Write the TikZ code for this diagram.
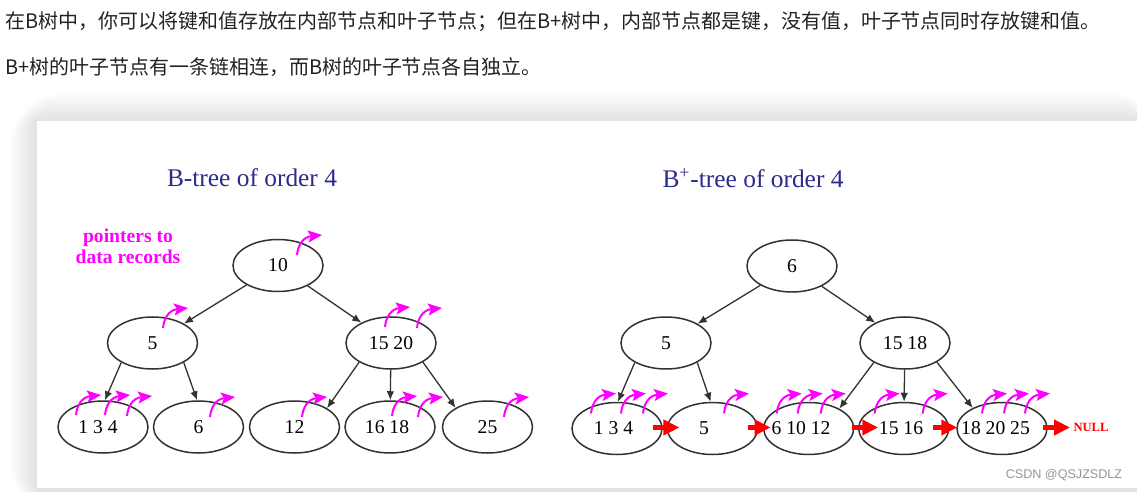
\documentclass[tikz,border=0pt]{standalone}
\usepackage{fontspec}
\setmainfont{Liberation Serif}
\newfontfamily\cjk{Noto Sans CJK SC}
\newfontfamily\wmfont{Liberation Sans}
\usetikzlibrary{arrows.meta,shapes.geometric}
\definecolor{titleblue}{RGB}{43,43,140}
\definecolor{ptrpink}{RGB}{255,0,255}
\definecolor{linkred}{RGB}{255,0,0}
\definecolor{edgegray}{RGB}{50,50,50}
\definecolor{cntextgray}{RGB}{34,34,34}
\definecolor{wmgray}{RGB}{150,150,150}
% curved pointer to a data record: node, dx, dy of its foot
\newcommand{\dataptr}[3]{%
  \begin{scope}[shift={([shift={(#2,#3)}]#1.center)}]
    \draw[recptr] (0,0) .. controls (1,-10) and (6,-18) .. (25,-20);
  \end{scope}}

\begin{document}
\begin{tikzpicture}[
    x=0.5pt, y=-0.5pt,
    key/.style={ellipse, draw=edgegray, line width=0.75pt, fill=white,
                minimum width=45pt, minimum height=26pt,
                inner xsep=-8pt, inner ysep=0pt,
                text=black, font=\fontsize{9.8}{11}\selectfont},
    branch/.style={edgegray, line width=0.65pt, -{Latex[length=4.5pt,width=3.8pt]}},
    leaflink/.style={linkred, line width=2.3pt, -{Triangle[length=8pt,width=7.5pt]}},
    recptr/.style={ptrpink, line width=1pt,
                   -{Stealth[length=7pt,width=6pt,inset=1.5pt]}},
    ttl/.style={titleblue, font=\fontsize{12.7}{15}\selectfont},
    note/.style={ptrpink, align=center, font=\fontsize{9.8}{10.5}\selectfont\bfseries},
    cntext/.style={anchor=west, inner sep=0pt, text=cntextgray,
                   font=\cjk\fontsize{9.98}{12}\selectfont}
]
\useasboundingbox (0,0) rectangle (1137,492);

% =========================================================
% TEXT ABOVE AND PANEL WITH ITS SHADOW
% =========================================================
\node[cntext] (line1) at (5,22)
  {在B树中，你可以将键和值存放在内部节点和叶子节点；但在B+树中，内部节点都是键，没有值，叶子节点同时存放键和值。};
\node[cntext] (line2) at (5,67)
  {B+树的叶子节点有一条链相连，而B树的叶子节点各自独立。};

\foreach \k in {2,4,...,28}
  \fill[black, opacity=0.007, rounded corners=\k] (37-\k,121-\k) rectangle (1137+\k,488+\k);
\fill[white] (37,121) rectangle (1137,488);

% =========================================================
% LEFT: B-tree
% =========================================================
\node[ttl] (btitle) at (252,178) {B-tree of order 4};
\node[note] (ptrnote) at (128,246) {pointers to\\data records};

\node[key] (root) at (278,265.5) {10};
\node[key] (a1) at (152.5,343) {5};
\node[key] (a2) at (391,343) {15 20};

\node[key] (l1) at (103,427) {\kern-5pt 1 3 4};
\node[key] (l2) at (198.5,427) {6};
\node[key] (l3) at (294.5,427) {12};
\node[key] (l4) at (390,427) {\kern-3pt 16 18};
\node[key] (l5) at (487.5,427) {25};

\draw[branch] (root) -- (a1);
\draw[branch] (root) -- (a2);
\draw[branch] (a1.212) -- (l1.86);
\draw[branch] (a1.328) -- (l2.93);
\draw[branch] (a2.211) -- (l3.30);
\draw[branch] (a2) -- (l4);
\draw[branch] (a2.329) -- (l5.149);

% pointers to the records
\dataptr{root}{19}{-10.5}
\dataptr{a1}{10.5}{-15}
\dataptr{a2}{-6}{-16}
\dataptr{a2}{26}{-15}
\dataptr{l1}{-27}{-12}
\dataptr{l1}{2}{-12}
\dataptr{l1}{24}{-11}
\dataptr{l2}{11.5}{-10}
\dataptr{l3}{7.5}{-10}
\dataptr{l4}{2}{-11}
\dataptr{l4}{28}{-10}
\dataptr{l5}{16.5}{-10}

% =========================================================
% RIGHT: B+-tree
% =========================================================
\node[ttl] (bptitle) at (753,178) {B\textsuperscript{+}-tree of order 4};

\node[key] (p6) at (792,266) {6};
\node[key] (b1) at (666,343) {5};
\node[key] (b2) at (905,343) {15 18};

\node[key] (q1) at (617,428.5) {\kern-3.5pt 1 3 4};
\node[key] (q2) at (712.5,428.5) {\kern-8.5pt 5};
\node[key] (q3) at (808.7,428.5) {\kern-7.7pt 6 10 12};
\node[key] (q4) at (903.7,428.5) {\kern-2.7pt 15 16};
\node[key] (q5) at (1002,428.5) {\kern-6.5pt 18 20 25};
\node[linkred, font=\fontsize{6.3}{7}\selectfont\bfseries, inner sep=0pt]
  (null) at (1091,427.5) {NULL};

\draw[branch] (p6) -- (b1);
\draw[branch] (p6) -- (b2);
\draw[branch] (b1.212) -- (q1.88);
\draw[branch] (b1.328) -- (q2.94);
\draw[branch] (b2.212) -- (q3.33);
\draw[branch] (b2) -- (q4);
\draw[branch] (b2.329) -- (q5.145);

% leaf chain
\draw[leaflink] ([shift={(-10,-1)}]q1.east) -- ([shift={(12.7,-1)}]q2.west);
\draw[leaflink] ([shift={(-10,-1)}]q2.east) -- ([shift={(7.7,-1)}]q3.west);
\draw[leaflink] ([shift={(-2.6,-1)}]q3.east) -- ([shift={(20.3,-1)}]q4.west);
\draw[leaflink] ([shift={(-16.6,-1)}]q4.east) -- ([shift={(1,-1)}]q5.west);
\draw[leaflink] ([shift={(-5,-1)}]q5.east) -- ([shift={(-3,0)}]null.west);

% pointers to the records
\dataptr{q1}{-26}{-15}
\dataptr{q1}{4}{-15}
\dataptr{q1}{26}{-15}
\dataptr{q2}{11.5}{-15}
\dataptr{q3}{-32}{-15}
\dataptr{q3}{-11}{-15}
\dataptr{q3}{12}{-15}
\dataptr{q4}{-29}{-15}
\dataptr{q4}{19}{-15}
\dataptr{q5}{-20}{-15}
\dataptr{q5}{2}{-15}
\dataptr{q5}{23}{-15}

% watermark
\node[wmgray, font=\wmfont\fontsize{6.3}{7}\selectfont] (mark) at (1064,475) {CSDN @QSJZSDLZ};

\end{tikzpicture}
\end{document}
